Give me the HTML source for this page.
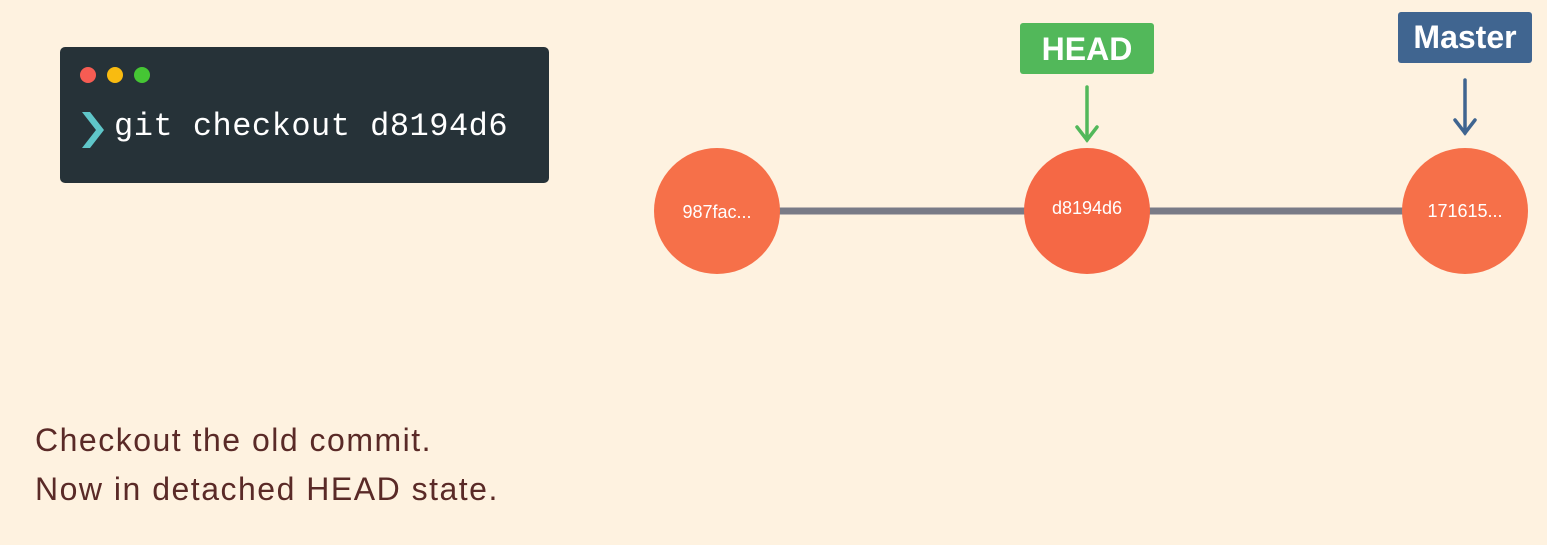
<!DOCTYPE html>
<html><head><style>
body{margin:0;width:1547px;height:545px;background:#fef2e0;overflow:hidden;position:relative;font-family:"Liberation Sans",sans-serif}
.term{position:absolute;left:60px;top:47px;width:489px;height:136px;background:#263238;border-radius:5px}
.dot{position:absolute;top:67px;width:16px;height:16px;border-radius:50%}
.cmd{position:absolute;left:114px;top:108px;font-family:"Liberation Mono",monospace;font-size:32px;color:#fff;letter-spacing:0.5px}
.txt{position:absolute;left:35px;font-size:32px;color:#5a2a27;font-weight:300;letter-spacing:1.5px}
</style></head><body>
<div class="term"></div>
<div class="dot" style="left:80px;background:#f65c53"></div>
<div class="dot" style="left:107px;background:#f9bb10"></div>
<div class="dot" style="left:134px;background:#45c634"></div>
<svg style="position:absolute;left:0;top:0" width="1547" height="545">
<polygon points="82,112 90,112 104,130 90,148 82,148 96,130" fill="#5fc6c9"/>
<line x1="717" y1="211" x2="1465" y2="211" stroke="#797b87" stroke-width="7"/>
<circle cx="717" cy="211" r="63" fill="#f67049"/>
<circle cx="1087" cy="211" r="63" fill="#f56845"/>
<circle cx="1465" cy="211" r="63" fill="#f67049"/>
<g font-family="Liberation Sans,sans-serif" font-size="18" fill="#fff" text-anchor="middle">
<text x="717" y="218">987fac...</text>
<text x="1087" y="214">d8194d6</text>
<text x="1465" y="217">171615...</text>
</g>
<rect x="1020" y="23" width="134" height="51" rx="3" fill="#52b85a"/>
<text x="1087" y="60" font-size="32" font-weight="bold" fill="#fff" text-anchor="middle" font-family="Liberation Sans,sans-serif">HEAD</text>
<rect x="1398" y="12" width="134" height="51" rx="3" fill="#406590"/>
<text x="1465" y="48" font-size="32" font-weight="bold" fill="#fff" text-anchor="middle" font-family="Liberation Sans,sans-serif">Master</text>
<g stroke="#52b85a" stroke-width="3.5" fill="none" stroke-linecap="round"><line x1="1087" y1="87" x2="1087" y2="140"/><polyline points="1077,127 1087,140 1097,127"/></g>
<g stroke="#406590" stroke-width="3.5" fill="none" stroke-linecap="round"><line x1="1465" y1="80" x2="1465" y2="133"/><polyline points="1455,120 1465,133 1475,120"/></g>
</svg>
<div class="cmd">git checkout d8194d6</div>
<div class="txt" style="top:422px">Checkout the old commit.</div>
<div class="txt" style="top:471px">Now in detached HEAD state.</div>
</body></html>
